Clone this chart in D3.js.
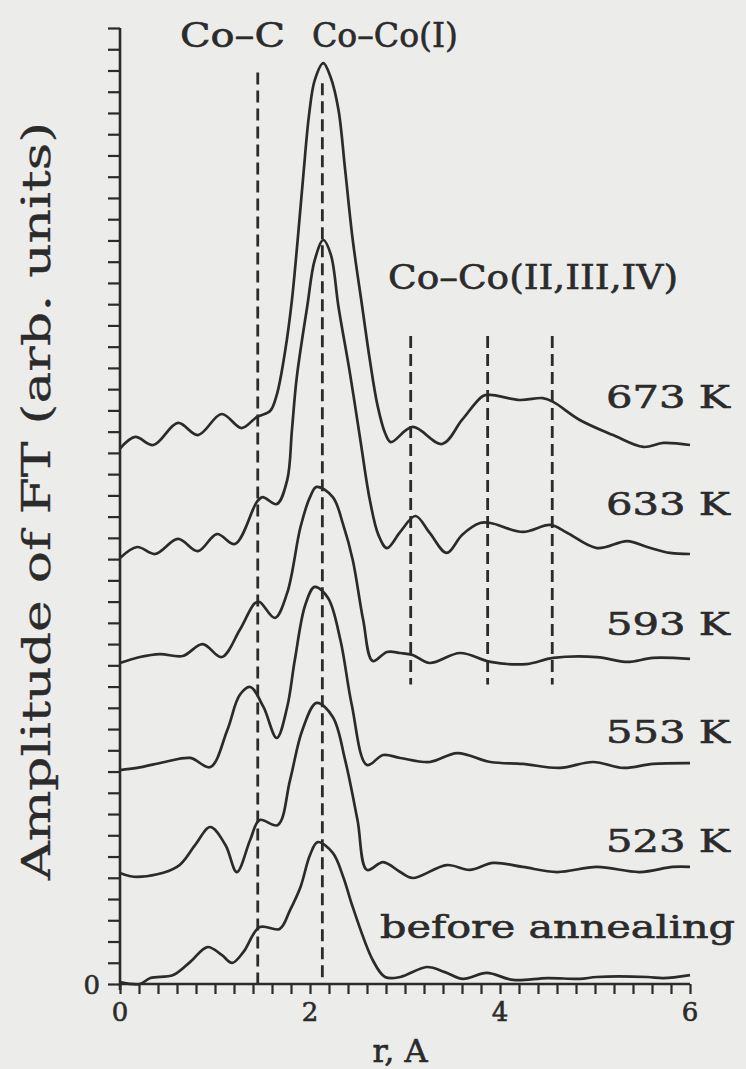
<!DOCTYPE html>
<html>
<head>
<meta charset="utf-8">
<script src="https://cdn.jsdelivr.net/npm/d3@7"></script>
<style>
  html, body { margin: 0; padding: 0; background: #ececea; }
  svg { display: block; }
  text { font-family: "DejaVu Serif", "Liberation Serif", serif; fill: #2b2b2b; stroke: #2b2b2b; stroke-width: 0.6px; }
</style>
</head>
<body>
<div class="viz-container"></div>
<script>
// ---- data (r in A, amplitude in axis-tick units) ----
let seriesLabels = ["673 K", "633 K", "593 K", "553 K", "523 K", "before annealing"];

let r673 = [0, 0.16, 0.35, 0.61, 0.82, 1.07, 1.28, 1.44, 1.58, 1.65, 1.74, 1.81, 1.87, 1.93, 1.99, 2.05, 2.14, 2.22, 2.30, 2.37, 2.45, 2.55, 2.63, 2.71, 2.79, 2.85, 3.08, 3.39, 3.60, 3.82, 3.90, 4.21, 4.45, 4.56, 4.84, 5.19, 5.51, 5.72, 6.0];
let a673 = [25.2, 25.75, 25.37, 26.41, 25.84, 26.83, 26.17, 26.69, 26.97, 27.73, 29.84, 32.2, 35.02, 38.08, 40.91, 42.55, 43.35, 42.65, 41.14, 38.32, 35.02, 31.87, 29.37, 27.25, 25.94, 25.51, 26.22, 25.42, 26.55, 27.68, 27.73, 27.49, 27.58, 27.4, 26.55, 25.84, 25.28, 25.47, 25.37];

let r633 = [0, 0.18, 0.37, 0.61, 0.82, 1.02, 1.21, 1.44, 1.50, 1.65, 1.76, 1.81, 1.86, 1.97, 2.05, 2.14, 2.22, 2.30, 2.42, 2.53, 2.63, 2.72, 2.81, 2.95, 3.11, 3.26, 3.44, 3.60, 3.79, 3.90, 4.24, 4.53, 4.71, 5.02, 5.34, 5.55, 5.79, 6.0];
let a633 = [20.05, 20.57, 20.24, 20.95, 20.38, 21.18, 20.71, 22.69, 22.92, 22.59, 23.72, 26.08, 28.53, 31.87, 34.08, 35.02, 34.32, 31.87, 28.76, 25.61, 22.78, 21.14, 20.52, 21.28, 22.03, 21.23, 20.29, 21.14, 21.7, 21.7, 21.28, 21.61, 21.23, 20.52, 20.85, 20.57, 20.29, 20.24];

let r593 = [0, 0.21, 0.42, 0.66, 0.87, 1.07, 1.26, 1.42, 1.47, 1.63, 1.76, 1.90, 2.0, 2.07, 2.24, 2.35, 2.45, 2.56, 2.66, 2.81, 2.95, 3.08, 3.26, 3.58, 3.90, 4.28, 4.56, 5.02, 5.34, 5.61, 6.0];
let a593 = [15.11, 15.39, 15.53, 15.44, 16.0, 15.39, 16.66, 17.93, 17.98, 17.23, 18.41, 21.51, 22.92, 23.4, 22.92, 21.61, 19.96, 17.13, 15.2, 15.63, 15.58, 15.49, 15.11, 15.58, 15.16, 15.06, 15.35, 15.39, 15.16, 15.35, 15.3];

let r553 = [0, 0.18, 0.47, 0.74, 0.95, 1.13, 1.26, 1.37, 1.51, 1.65, 1.76, 1.84, 1.95, 2.05, 2.19, 2.32, 2.44, 2.60, 2.77, 2.95, 3.26, 3.55, 3.90, 4.24, 4.63, 4.98, 5.30, 5.61, 6.0];
let a553 = [10.07, 10.17, 10.45, 10.64, 10.21, 11.96, 13.6, 13.98, 13.04, 11.58, 13.04, 15.25, 17.84, 18.69, 18.17, 16.19, 13.13, 10.31, 10.78, 10.64, 10.45, 10.87, 10.45, 10.36, 10.17, 10.45, 10.17, 10.36, 10.4];

let r523 = [0, 0.18, 0.60, 0.79, 0.95, 1.11, 1.23, 1.37, 1.47, 1.66, 1.79, 1.92, 2.07, 2.24, 2.37, 2.50, 2.60, 2.77, 2.95, 3.08, 3.44, 3.68, 3.93, 4.24, 4.60, 5.02, 5.47, 5.82, 6.0];
let a523 = [5.23, 5.04, 5.51, 6.54, 7.39, 6.54, 5.27, 6.78, 7.72, 7.48, 9.6, 11.96, 13.23, 12.57, 10.54, 7.72, 5.37, 5.74, 5.27, 4.99, 5.6, 5.37, 5.7, 5.51, 5.27, 5.51, 5.27, 5.51, 5.51];

let rBefore = [0, 0.21, 0.32, 0.56, 0.74, 0.92, 1.07, 1.18, 1.30, 1.47, 1.68, 1.79, 1.90, 2.0, 2.08, 2.24, 2.35, 2.45, 2.66, 2.79, 2.95, 3.23, 3.42, 3.61, 3.86, 4.14, 4.50, 4.84, 5.02, 5.55, 5.72, 6.0];
let aBefore = [0.09, 0, 0.28, 0.42, 1.04, 1.74, 1.37, 0.99, 1.51, 2.68, 2.59, 3.48, 4.57, 6.07, 6.68, 6.17, 5.04, 3.62, 1.13, 0.33, 0.33, 0.8, 0.56, 0.24, 0.52, 0.19, 0.28, 0.24, 0.33, 0.33, 0.28, 0.42];

let rSeries = [r673, r633, r593, r553, r523, rBefore];
let aSeries = [a673, a633, a593, a553, a523, aBefore];

// dashed reference lines
let bondNames = ["Co\u2013C", "Co\u2013Co(I)", "Co\u2013Co(II,III,IV)"];
let bondR = [1.45, 2.13];
let bondTop = [42.9, 42.4];
let shellR = [3.06, 3.87, 4.55];
let shellTop = 30.5;
let shellBottom = 14.1;

let xTickLabels = [0, 2, 4, 6];

// ---- drawing ----
let viz = d3.select(".viz-container")
  .append("svg")
    .attr("width", 746)
    .attr("height", 1069);

let x = d3.scaleLinear().domain([0, 6]).range([120, 690]);
let y = d3.scaleLinear().domain([0, 45]).range([984, 28]);

let ink = "#2b2b2b";

// y axis: line + ticks pointing left
viz.append("g")
  .attr("transform", "translate(120,0)")
  .call(d3.axisLeft(y).tickValues(d3.range(0, 46)).tickSize(12).tickFormat(""))
  .call(g => g.select(".domain").attr("stroke", ink).attr("stroke-width", 2.6).attr("d", "M0,28V990"))
  .call(g => g.selectAll(".tick line").attr("stroke", ink).attr("stroke-width", 2.2));

// x axis: minor ticks every 0.2 pointing down
viz.append("g")
  .attr("transform", "translate(0,984)")
  .call(d3.axisBottom(x).tickValues(d3.range(0, 31).map(d => d / 5)).tickSize(10).tickFormat(""))
  .call(g => g.select(".domain").attr("stroke", ink).attr("stroke-width", 2.6).attr("d", "M120,0H690"))
  .call(g => g.selectAll(".tick line").attr("stroke", ink).attr("stroke-width", 2.2));

viz.selectAll(".xlab").data(xTickLabels).enter()
  .append("text")
    .attr("class", "xlab")
    .attr("x", d => x(d))
    .attr("y", 1021)
    .attr("text-anchor", "middle")
    .style("font-size", "26px")
    .text(d => d);

viz.append("text")
  .attr("x", 100)
  .attr("y", 994)
  .attr("text-anchor", "end")
  .style("font-size", "26px")
  .text("0");

viz.append("text")
  .attr("x", 400)
  .attr("y", 1062)
  .attr("text-anchor", "middle")
  .style("font-size", "32px")
  .text("r, A");

viz.append("text")
  .attr("transform", "translate(50,501) rotate(-90)")
  .attr("text-anchor", "middle")
  .attr("textLength", 758)
  .attr("lengthAdjust", "spacingAndGlyphs")
  .style("font-size", "40px")
  .style("stroke-width", "0.3px")
  .text("Amplitude of FT (arb. units)");

// dashed markers
viz.selectAll(".bond").data(bondR).enter()
  .append("line")
    .attr("class", "bond")
    .attr("x1", d => x(d)).attr("x2", d => x(d))
    .attr("y1", (d, i) => y(bondTop[i])).attr("y2", y(0))
    .attr("stroke", ink).attr("stroke-width", 2.8)
    .attr("stroke-dasharray", "12,6");

viz.selectAll(".shell").data(shellR).enter()
  .append("line")
    .attr("class", "shell")
    .attr("x1", d => x(d)).attr("x2", d => x(d))
    .attr("y1", y(shellTop)).attr("y2", y(shellBottom))
    .attr("stroke", ink).attr("stroke-width", 2.8)
    .attr("stroke-dasharray", "12,6");

// curves
let line = d3.line()
  .x(d => x(d[0]))
  .y(d => y(d[1]))
  .curve(d3.curveCatmullRom.alpha(0.5));

viz.selectAll(".ft").data(rSeries.map((rs, i) => rs.map((r, j) => [r, aSeries[i][j]]))).enter()
  .append("path")
    .attr("class", "ft")
    .attr("d", line)
    .attr("fill", "none")
    .attr("stroke", ink)
    .attr("stroke-width", 2.7)
    .attr("stroke-linejoin", "round");

// bond labels
let bondLabelPos = [[180, 47, 105], [312, 47, 146], [388, 289, 290]];
viz.selectAll(".bondlab").data(bondNames).enter()
  .append("text")
    .attr("class", "bondlab")
    .attr("x", (d, i) => bondLabelPos[i][0])
    .attr("y", (d, i) => bondLabelPos[i][1])
    .attr("textLength", (d, i) => bondLabelPos[i][2])
    .attr("lengthAdjust", "spacingAndGlyphs")
    .style("font-size", "33px")
    .text(d => d);

// temperature labels
let tempLabelPos = [[606, 408, 124], [606, 515, 124], [606, 635, 124], [606, 743, 124], [606, 852, 124], [380, 938, 355]];
viz.selectAll(".templab").data(seriesLabels).enter()
  .append("text")
    .attr("class", "templab")
    .attr("x", (d, i) => tempLabelPos[i][0])
    .attr("y", (d, i) => tempLabelPos[i][1])
    .attr("textLength", (d, i) => tempLabelPos[i][2])
    .attr("lengthAdjust", "spacingAndGlyphs")
    .style("font-size", "32px")
    .text(d => d);
</script>
</body>
</html>
